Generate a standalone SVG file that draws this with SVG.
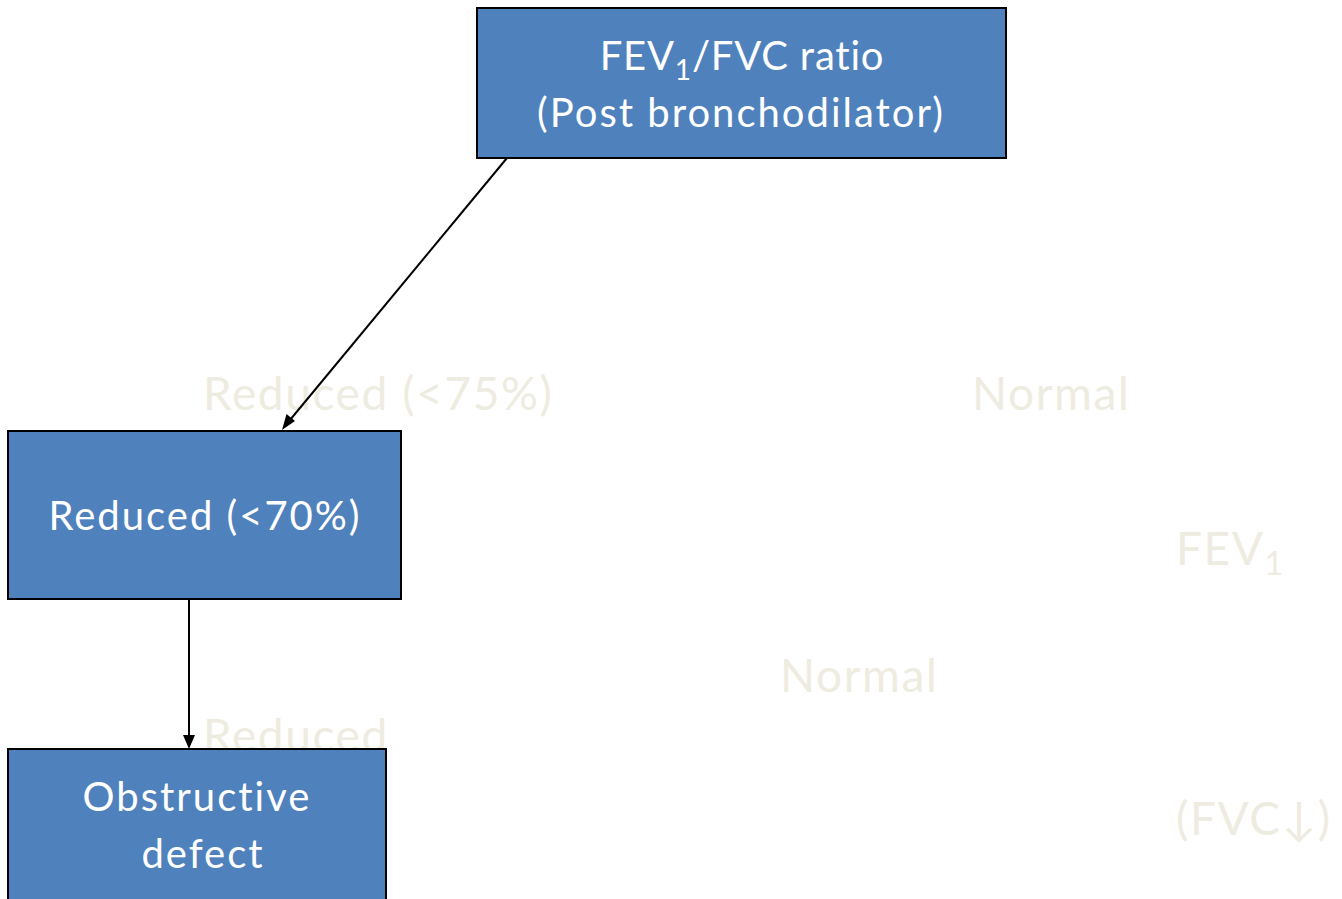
<svg xmlns="http://www.w3.org/2000/svg" width="1342" height="899" viewBox="0 0 1342 899">
<style>
text{font-variant-ligatures:none}
.box{fill:#4F81BD;stroke:#000;stroke-width:2}
.t{font-family:Lato,"Open Sans","Liberation Sans",sans-serif;font-size:40px;letter-spacing:2px;fill:#fff;text-anchor:middle}
.g{font-family:Lato,"Open Sans","Liberation Sans",sans-serif;font-size:46px;letter-spacing:1.6px;fill:#EEECE1}
</style>
<rect width="1342" height="899" fill="#fff"/>
<g id="ghost-labels">
<text class="g" x="203" y="410">Reduced (&lt;75%)</text>
<text class="g" x="972" y="410">Normal</text>
<text class="g" x="1176" y="565">FEV<tspan font-size="32" dy="10">1</tspan></text>
<text class="g" x="780" y="692">Normal</text>
<text class="g" x="203" y="752">Reduced</text>
<text class="g" x="1176" y="835">(FVC↓)</text>
</g>
<g id="connectors">
<line x1="507" y1="158" x2="285" y2="426" stroke="#000" stroke-width="2"/>
<path d="M282,430 L286.5,414 L295,421 z" fill="#000"/>
<line x1="189" y1="599" x2="189" y2="736" stroke="#000" stroke-width="2"/>
<path d="M183,735 L195,735 L189,749 z" fill="#000"/>
</g>
<g id="node-ratio">
<rect class="box" x="477" y="8" width="529" height="150"/>
<text class="t" x="742" y="70" style="letter-spacing:0.8px">FEV<tspan font-size="28" dy="10">1</tspan><tspan dy="-10">/FVC ratio</tspan></text>
<text class="t" x="741" y="127">(Post bronchodilator)</text>
</g>
<g id="node-reduced">
<rect class="box" x="8" y="431" width="393" height="168"/>
<text class="t" x="205" y="530">Reduced (&lt;70%)</text>
</g>
<g id="node-obstructive">
<rect class="box" x="8" y="749" width="378" height="160"/>
<text class="t" x="197" y="811">Obstructive</text>
<text class="t" x="203" y="868">defect</text>
</g>
</svg>
